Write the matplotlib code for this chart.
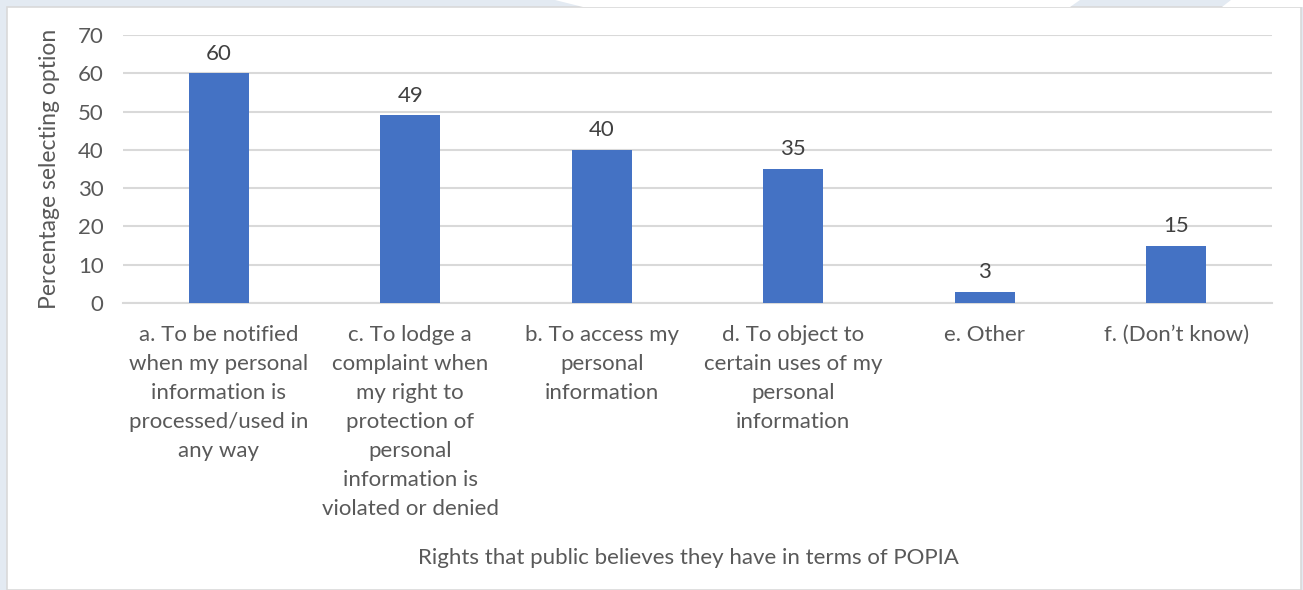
import matplotlib
matplotlib.use("Agg")
import matplotlib.pyplot as plt
from matplotlib.patches import Polygon, Rectangle

plt.rcParams['font.family'] = ['Lato', 'DejaVu Sans']

categories = [
    "a. To be notified\nwhen my personal\ninformation is\nprocessed/used in\nany way",
    "c. To lodge a\ncomplaint when\nmy right to\nprotection of\npersonal\ninformation is\nviolated or denied",
    "b. To access my\npersonal\ninformation",
    "d. To object to\ncertain uses of my\npersonal\ninformation",
    "e. Other",
    "f. (Don\u2019t know)",
]
values = [60, 49, 40, 35, 3, 15]
yticks = [0, 10, 20, 30, 40, 50, 60, 70]
xlabel = "Rights that public believes they have in terms of POPIA"
ylabel = "Percentage selecting option"

W, H = 1303, 590
FS = 16
fig = plt.figure(figsize=(W / 100, H / 100), dpi=100)
fig.patch.set_facecolor("#e3eaf2")

def fx(px):
    return px / W

def fy(py):
    return 1 - py / H

# white chart panel with thin grey border
fig.patches.append(Rectangle((fx(7), 0), fx(1301) - fx(7), fy(7), transform=fig.transFigure,
                             facecolor="white", edgecolor="#d9d9d9", linewidth=1.2, zorder=-2))
# lighter gaps in the decorative band along the top
for pts in ([(555, 0), (1080, 0), (1070, 7), (583, 7)],
            [(1231, 0), (W, 0), (W, 7), (1222, 7)]):
    fig.patches.append(Polygon([(fx(x), fy(y)) for x, y in pts], closed=True,
                               transform=fig.transFigure, facecolor="white",
                               edgecolor="none", zorder=-2))

ax = fig.add_axes([fx(123), fy(303), fx(1272) - fx(123), fy(35) - fy(303)])
ax.set_facecolor("none")
ax.set_zorder(1)

text_col = "#595959"
x = range(len(values))
bars = ax.bar(x, values, width=0.315, color="#4472c4", zorder=3)
for b, v in zip(bars, values):
    ax.annotate(f"{v:g}", (b.get_x() + b.get_width() / 2, v), xytext=(0, 7),
                textcoords="offset points", ha="center", va="bottom",
                fontsize=FS, color="#404040")

ax.set_xlim(-0.5, len(values) - 0.5)
ax.set_ylim(0, 70)
ax.set_yticks(yticks)
ax.yaxis.grid(True, color="#d9d9d9", linewidth=1.5, zorder=0)
ax.set_axisbelow(True)
for s in ("top", "right", "left"):
    ax.spines[s].set_visible(False)
ax.spines["bottom"].set_color("#d9d9d9")
ax.spines["bottom"].set_linewidth(1.5)
ax.tick_params(axis="both", length=0, labelsize=FS, labelcolor=text_col)
ax.tick_params(axis="y", pad=14)
ax.tick_params(axis="x", pad=15.5)
ax.set_xticks(list(x))
ax.set_xticklabels(categories, linespacing=1.57)

ax.set_ylabel(ylabel, fontsize=16.5, color=text_col, labelpad=13)
fig.text(fx(688), fy(558), xlabel, ha="center", va="center", fontsize=FS, color=text_col)

fig.savefig("out.png", dpi=100, facecolor=fig.get_facecolor())
